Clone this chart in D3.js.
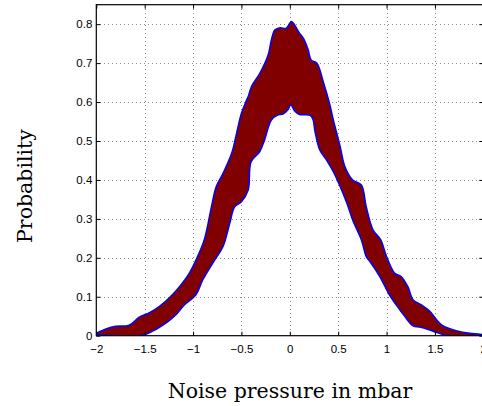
<!DOCTYPE html>
<html>
<head>
<meta charset="utf-8">
<script src="https://cdn.jsdelivr.net/npm/d3@7"></script>
<style>
  html, body { margin: 0; padding: 0; background: #fff; }
  svg { display: block; }
</style>
</head>
<body>
<svg id="chart" width="482" height="406"></svg>
<script>
// ---- data ----
const upperX = [-2.00, -1.90, -1.80, -1.66, -1.56, -1.45, -1.35, -1.25, -1.14, -1.04, -0.95, -0.88, -0.81, -0.76, -0.69, -0.60, -0.55, -0.50, -0.45, -0.43, -0.396, -0.31, -0.224, -0.19, -0.155, -0.10, -0.04, 0.017, 0.05, 0.10, 0.14, 0.19, 0.22, 0.28, 0.345, 0.41, 0.45, 0.52, 0.57, 0.65, 0.74, 0.79, 0.86, 0.94, 1.00, 1.085, 1.15, 1.22, 1.275, 1.36, 1.45, 1.52, 1.585, 1.72, 1.86, 2.00];
const upperP = [0.006, 0.017, 0.024, 0.027, 0.047, 0.059, 0.075, 0.096, 0.126, 0.160, 0.205, 0.250, 0.331, 0.383, 0.417, 0.469, 0.520, 0.571, 0.603, 0.614, 0.640, 0.674, 0.721, 0.760, 0.785, 0.791, 0.789, 0.807, 0.798, 0.777, 0.764, 0.734, 0.708, 0.700, 0.653, 0.597, 0.554, 0.486, 0.434, 0.400, 0.387, 0.331, 0.272, 0.246, 0.203, 0.160, 0.152, 0.126, 0.092, 0.079, 0.062, 0.040, 0.025, 0.013, 0.006, 0.003];
const lowerX = [-2.00, -1.90, -1.66, -1.51, -1.385, -1.26, -1.18, -1.09, -0.97, -0.90, -0.775, -0.69, -0.62, -0.57, -0.50, -0.43, -0.40, -0.31, -0.26, -0.19, -0.12, -0.07, -0.02, 0.01, 0.05, 0.10, 0.21, 0.24, 0.26, 0.31, 0.38, 0.45, 0.52, 0.59, 0.65, 0.74, 0.79, 0.83, 0.93, 1.02, 1.10, 1.19, 1.275, 1.34, 1.43, 1.52, 1.62, 2.00];
const lowerP = [0.003, 0.001, 0.000, 0.002, 0.016, 0.036, 0.053, 0.079, 0.105, 0.143, 0.195, 0.229, 0.289, 0.331, 0.344, 0.374, 0.447, 0.473, 0.503, 0.554, 0.567, 0.569, 0.580, 0.593, 0.577, 0.568, 0.566, 0.555, 0.525, 0.477, 0.451, 0.421, 0.383, 0.340, 0.297, 0.246, 0.203, 0.190, 0.152, 0.109, 0.079, 0.049, 0.025, 0.022, 0.016, 0.008, 0.001, 0.000];
const xTicks = [-2, -1.5, -1, -0.5, 0, 0.5, 1, 1.5, 2];
const xTickLabels = ["\u22122", "\u22121.5", "\u22121", "\u22120.5", "0", "0.5", "1", "1.5", "2"];
const yTicks = [0, 0.1, 0.2, 0.3, 0.4, 0.5, 0.6, 0.7, 0.8];
const yTickLabels = ["0", "0.1", "0.2", "0.3", "0.4", "0.5", "0.6", "0.7", "0.8"];
const xLabel = "Noise pressure in mbar";
const yLabel = "Probability";

// ---- layout ----
const L = 96.3, R = 483.3, T = 4.7, B = 335.7;
const svg = d3.select("#chart");
const x = d3.scaleLinear().domain([-2, 2]).range([L, R]);
const y = d3.scaleLinear().domain([0, 0.85]).range([B, T]);

svg.append("defs").append("clipPath").attr("id", "plotclip")
  .append("rect").attr("x", L).attr("y", T).attr("width", R - L).attr("height", B - T);

// grid
const grid = svg.append("g").attr("stroke", "#000").attr("stroke-opacity", 0.45)
  .attr("stroke-width", 1).attr("stroke-dasharray", "1,3").attr("shape-rendering", "crispEdges");
grid.selectAll(".gx").data(xTicks.slice(1, -1)).join("line")
  .attr("x1", d => Math.round(x(d)) + 0.5).attr("x2", d => Math.round(x(d)) + 0.5)
  .attr("y1", T).attr("y2", B);
grid.selectAll(".gy").data(yTicks.slice(1)).join("line")
  .attr("y1", d => Math.round(y(d)) + 0.5).attr("y2", d => Math.round(y(d)) + 0.5)
  .attr("x1", L).attr("x2", R);

// band
const upper = upperX.map((v, i) => [v, upperP[i]]);
const lower = lowerX.map((v, i) => [v, lowerP[i]]);
const line = d3.line().x(d => x(d[0])).y(d => y(Math.max(0, d[1]))).curve(d3.curveCatmullRom.alpha(0.5));
const lowerRevPath = line(lower.slice().reverse());
const plot = svg.append("g").attr("clip-path", "url(#plotclip)");
plot.append("path")
  .attr("d", line(upper) + "L" + lowerRevPath.slice(1) + "Z")
  .attr("fill", "#800000");
plot.append("path").attr("d", line(upper)).attr("fill", "none")
  .attr("stroke", "#0000ff").attr("stroke-width", 1.5);
plot.append("path").attr("d", line(lower)).attr("fill", "none")
  .attr("stroke", "#0000ff").attr("stroke-width", 1.5);

// axes
const fontTick = "'Liberation Sans', Arial, Helvetica, sans-serif";
const xAxis = d3.axisBottom(x).tickValues(xTicks)
  .tickFormat((d, i) => xTickLabels[i]).tickSize(-4).tickPadding(9);
const gx = svg.append("g").attr("transform", `translate(0,${B})`).call(xAxis);
const xAxisTop = d3.axisTop(x).tickValues(xTicks).tickFormat("").tickSize(-4);
const gxt = svg.append("g").attr("transform", `translate(0,${T})`).call(xAxisTop);
const yAxis = d3.axisLeft(y).tickValues(yTicks)
  .tickFormat((d, i) => yTickLabels[i]).tickSize(-4).tickPadding(4);
const gy = svg.append("g").attr("transform", `translate(${L},0)`).call(yAxis);
const yAxisR = d3.axisRight(y).tickValues(yTicks).tickFormat("").tickSize(-4);
const gyr = svg.append("g").attr("transform", `translate(${R},0)`).call(yAxisR);

[gx, gxt, gy, gyr].forEach(g => {
  g.select(".domain").remove();
  g.selectAll("line").attr("stroke", "#000").attr("stroke-width", 1);
  g.selectAll("text").attr("font-family", fontTick).attr("font-size", 11.5).attr("fill", "#000");
});

// box
svg.append("rect").attr("x", L).attr("y", T).attr("width", R - L).attr("height", B - T)
  .attr("fill", "none").attr("stroke", "#000").attr("stroke-width", 1.2);

// labels
const fontLabel = "'DejaVu Serif', 'Liberation Serif', serif";
svg.append("text").text(xLabel)
  .attr("x", 290).attr("y", 398).attr("text-anchor", "middle")
  .attr("font-family", fontLabel).attr("font-size", 20.5).attr("fill", "#000");
svg.append("text").text(yLabel)
  .attr("transform", "translate(32,186) rotate(-90)").attr("text-anchor", "middle")
  .attr("font-family", fontLabel).attr("font-size", 20.5).attr("fill", "#000");
</script>
</body>
</html>
